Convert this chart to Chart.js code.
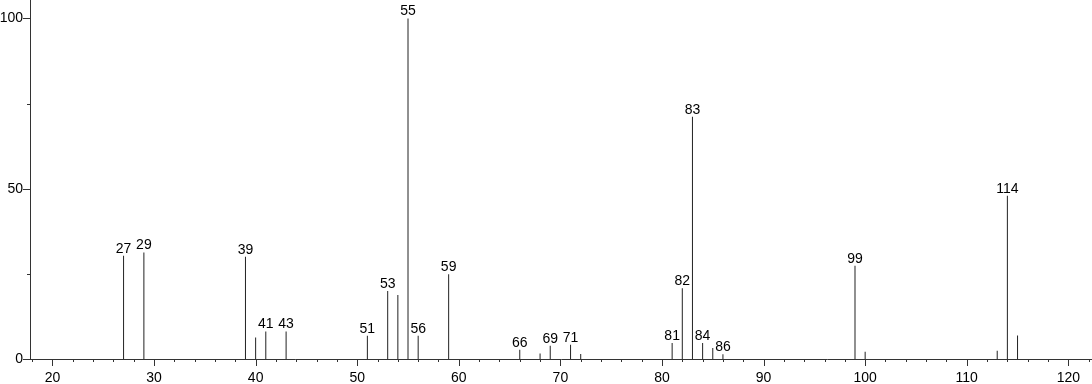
<!DOCTYPE html>
<html>
<head>
<meta charset="utf-8">
<script src="https://cdn.jsdelivr.net/npm/chart.js@4/dist/chart.umd.min.js"></script>
<style>
    html, body { margin: 0; padding: 0; background: #fff; }
    #spectrum { display: block; }
</style>
</head>
<body>
<canvas id="spectrum" width="1092" height="384"></canvas>
<script>
// m/z of each peak and its relative intensity (%)
const mz = [27, 29, 39, 40, 41, 43, 51, 53, 54, 55, 56, 59, 66, 68, 69, 71, 72,
    81, 82, 83, 84, 85, 86, 99, 100, 113, 114, 115];
const intensity = [30.3, 31.3, 30.0, 6.3, 8.1, 8.1, 6.8, 20.0, 18.8, 100, 6.8, 24.9, 2.7, 1.6, 3.9, 4.2, 1.5,
    4.7, 20.8, 71.1, 4.7, 3.2, 1.4, 27.4, 2.1, 2.4, 47.9, 6.9];
// peaks that carry an m/z label
const labeledMz = [27, 29, 39, 41, 43, 51, 53, 55, 56, 59, 66, 69, 71, 81, 82, 83, 84, 86, 99, 114];
// axis ticks
const xLabelTicks = [20, 30, 40, 50, 60, 70, 80, 90, 100, 110, 120];
const yLabelTicks = [0, 50, 100];

const axisColor = '#333';
const fontFamily = '"Liberation Sans", Arial, Helvetica, sans-serif';

// labels above the sticks
const peakLabels = {
    id: 'peakLabels',
    afterDatasetsDraw(chart) {
        const ctx = chart.ctx;
        const meta = chart.getDatasetMeta(0);
        ctx.save();
        ctx.fillStyle = '#000';
        ctx.font = '14px ' + fontFamily;
        ctx.textAlign = 'center';
        ctx.textBaseline = 'alphabetic';
        meta.data.forEach((bar, i) => {
            if (!labeledMz.includes(mz[i])) {
                return;
            }
            ctx.fillText(String(mz[i]), bar.x, bar.y - 3);
        });
        ctx.restore();
    },
};

// major/minor tick marks of different length
const tickMarks = {
    id: 'tickMarks',
    afterDraw(chart) {
        const { ctx, scales: { x, y } } = chart;
        ctx.save();
        ctx.strokeStyle = axisColor;
        ctx.lineWidth = 1;
        ctx.beginPath();
        x.ticks.forEach((t) => {
            const px = Math.round(x.getPixelForValue(t.value)) + 0.5;
            const len = xLabelTicks.includes(t.value) ? 7 : 3;
            ctx.moveTo(px, x.top);
            ctx.lineTo(px, x.top + len);
        });
        y.ticks.forEach((t) => {
            const py = Math.round(y.getPixelForValue(t.value)) + 0.5;
            const len = yLabelTicks.includes(t.value) ? 7 : 3;
            ctx.moveTo(y.right, py);
            ctx.lineTo(y.right - len, py);
        });
        ctx.stroke();
        ctx.restore();
    },
};

new Chart(document.getElementById('spectrum'), {
    type: 'bar',
    data: {
        datasets: [{
            data: mz.map((m, i) => ({ x: m, y: intensity[i] })),
            backgroundColor: '#222',
            borderWidth: 0,
            barThickness: 1,
            inflateAmount: 0,
        }],
    },
    options: {
        responsive: false,
        animation: false,
        devicePixelRatio: 1,
        layout: { padding: 0 },
        plugins: {
            legend: { display: false },
            tooltip: { enabled: false },
        },
        scales: {
            x: {
                type: 'linear',
                min: 17.79,
                max: 122.33,
                offset: false,
                grid: { display: false, drawTicks: false, offset: false },
                border: { display: true, color: axisColor, width: 1 },
                ticks: {
                    stepSize: 2,
                    includeBounds: false,
                    autoSkip: false,
                    maxRotation: 0,
                    minRotation: 0,
                    padding: 11,
                    color: '#000',
                    font: { family: fontFamily, size: 14 },
                    callback: (v) => (xLabelTicks.includes(v) ? String(v) : ''),
                },
                afterFit(scale) {
                    scale.height = 25;
                    scale.paddingLeft = 0;
                    scale.paddingRight = 0;
                },
            },
            y: {
                min: 0,
                max: 105.4,
                grid: { display: false, drawTicks: false },
                border: { display: true, color: axisColor, width: 1 },
                ticks: {
                    stepSize: 25,
                    includeBounds: false,
                    padding: 7,
                    color: '#000',
                    font: { family: fontFamily, size: 14 },
                    callback: (v) => (yLabelTicks.includes(v) ? String(v) : ''),
                },
                afterFit(scale) {
                    scale.width = 30;
                    scale.paddingTop = 0;
                    scale.paddingBottom = 0;
                },
            },
        },
    },
    plugins: [peakLabels, tickMarks],
});
</script>
</body>
</html>
